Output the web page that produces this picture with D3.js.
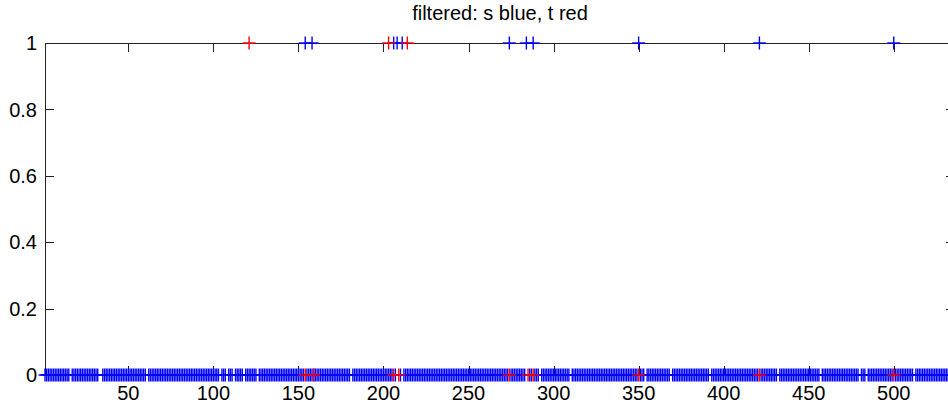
<!DOCTYPE html>
<html lang="en">
<head>
<meta charset="UTF-8">
<title>filtered: s blue, t red</title>
<style>
    body {
        margin: 0;
        background: #fff;
        font-family: "Liberation Sans", Arial, Helvetica, sans-serif;
    }
    svg text {
        fill: #000;
    }
</style>
</head>
<body>
<svg id="chart" width="948" height="407"></svg>
<script src="https://d3js.org/d3.v7.min.js"></script>
<script>
    // s (blue) at value 1
    const sTopX = [154, 158, 206, 208, 211, 274, 284, 288, 350, 421, 500];
    // t (red) at value 1
    const tTopX = [121, 203, 214];
    // t (red) at value 0
    const tBottomX = [154, 159, 206, 209, 274, 285, 288, 350, 421, 500];
    // s (blue) at value 0, stored as runs of consecutive indices [from, to]
    const sBottomRuns = [
        [1, 15], [17, 32], [35, 60], [62, 103], [105, 107], [109, 111],
        [113, 117], [119, 125], [127, 153], [155, 180], [182, 205],
        [207, 207], [210, 210], [212, 273], [275, 283], [286, 287],
        [289, 291], [293, 309], [311, 349], [351, 353], [355, 368],
        [370, 391], [393, 420], [422, 431], [433, 456], [458, 479],
        [481, 483], [485, 499], [501, 511], [513, 536]
    ];
    const xTicks = [50, 100, 150, 200, 250, 300, 350, 400, 450, 500];
    const yTicks = [0, 0.2, 0.4, 0.6, 0.8, 1];
    const titleText = "filtered: s blue, t red";

    const sBottomX = [];
    sBottomRuns.forEach(r => {
        for (let i = r[0]; i <= r[1]; i++) sBottomX.push(i);
    });

    const m = { left: 45, right: 955, top: 43, bottom: 375 };
    const svg = d3.select("#chart");

    const x = d3.scaleLinear().domain([1, 536]).range([m.left, m.right]);
    const y = d3.scaleLinear().domain([0, 1]).range([m.bottom, m.top]);

    const tickLen = 9;
    const axisColor = "#222";
    const fontSize = 20;

    // frame
    svg.append("rect")
        .attr("x", m.left + 0.5).attr("y", m.top + 0.5)
        .attr("width", m.right - m.left).attr("height", m.bottom - m.top)
        .attr("fill", "none").attr("stroke", axisColor).attr("stroke-width", 1);

    // x ticks (inward, top and bottom)
    const xt = svg.append("g");
    xTicks.forEach(v => {
        const px = Math.round(x(v)) + 0.5;
        xt.append("line").attr("x1", px).attr("x2", px).attr("y1", m.bottom).attr("y2", m.bottom - tickLen)
            .attr("stroke", axisColor);
        xt.append("line").attr("x1", px).attr("x2", px).attr("y1", m.top).attr("y2", m.top + tickLen)
            .attr("stroke", axisColor);
        xt.append("text").attr("x", x(v)).attr("y", 400)
            .attr("text-anchor", "middle").attr("font-size", fontSize).text(v);
    });

    // y ticks (inward, left and right)
    const yt = svg.append("g");
    yTicks.forEach(v => {
        const py = Math.round(y(v)) + 0.5;
        yt.append("line").attr("x1", m.left).attr("x2", m.left + tickLen).attr("y1", py).attr("y2", py)
            .attr("stroke", axisColor);
        yt.append("line").attr("x1", m.right).attr("x2", m.right - tickLen).attr("y1", py).attr("y2", py)
            .attr("stroke", axisColor);
        yt.append("text").attr("x", 37).attr("y", y(v)).attr("dy", "0.36em")
            .attr("text-anchor", "end").attr("font-size", fontSize).text(v);
    });

    // '+' markers
    const half = 6.5;
    function plus(g, xs, val, color) {
        xs.forEach(v => {
            const cx = x(v), cy = y(val);
            g.append("line").attr("x1", cx - half).attr("x2", cx + half).attr("y1", cy).attr("y2", cy)
                .attr("stroke", color).attr("stroke-width", 1.4);
            g.append("line").attr("x1", cx).attr("x2", cx).attr("y1", cy - half).attr("y2", cy + half)
                .attr("stroke", color).attr("stroke-width", 1.4);
        });
    }
    const marks = svg.append("g");
    plus(marks, sBottomX, 0, "#0000ff");
    plus(marks, sTopX, 1, "#0000ff");
    plus(marks, tBottomX, 0, "#ff0000");
    plus(marks, tTopX, 1, "#ff0000");

    svg.append("text").attr("x", 500).attr("y", 20)
        .attr("text-anchor", "middle").attr("font-size", fontSize).text(titleText);
</script>
</body>
</html>
